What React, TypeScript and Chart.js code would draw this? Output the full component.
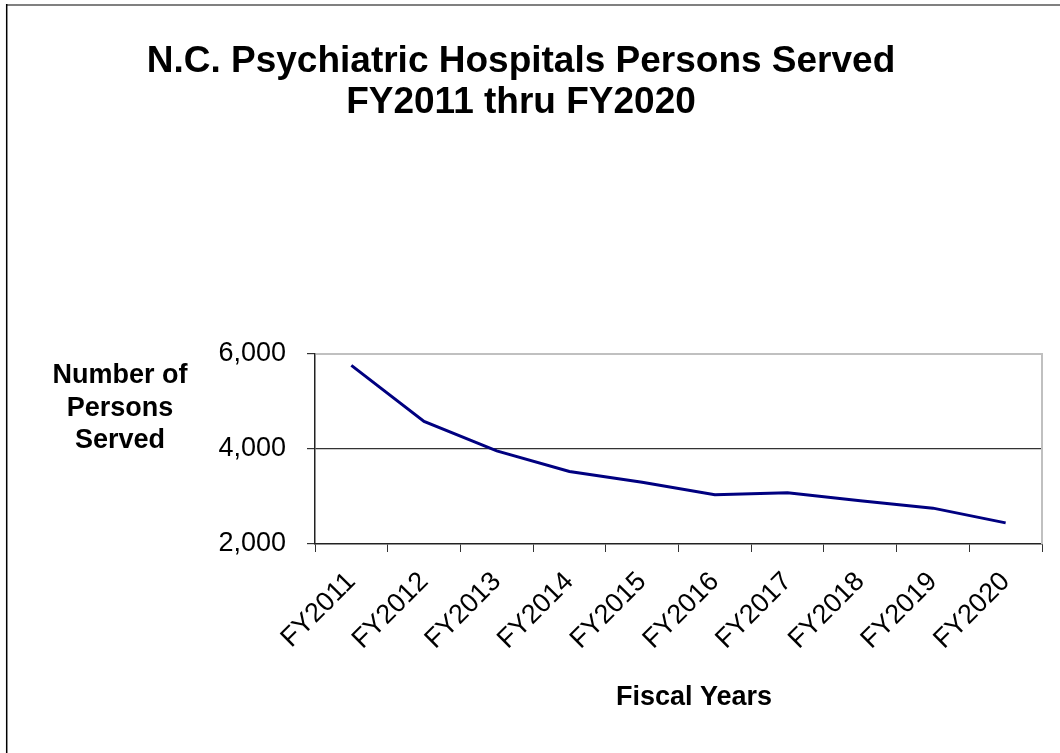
import React, { useEffect, useRef } from "react";
import { Chart, registerables } from "chart.js";

Chart.register(...registerables);

const categories = ["FY2011", "FY2012", "FY2013", "FY2014", "FY2015", "FY2016", "FY2017", "FY2018", "FY2019", "FY2020"];
const personsServed = [5760, 4580, 3960, 3525, 3300, 3035, 3080, 2910, 2755, 2445];
const titleLines = ["N.C. Psychiatric Hospitals Persons Served", "FY2011 thru FY2020"];
const yTitleLines = ["Number of", "Persons", "Served"];
const xTitle = "Fiscal Years";
const yMin = 2000;
const yMax = 6000;
const yStep = 2000;

const FONT = '"Liberation Sans", Arial, sans-serif';

const decorPlugin = {
  id: "decor",
  beforeDatasetsDraw(chart: any) {
    const { ctx, chartArea } = chart;
    ctx.save();
    ctx.strokeStyle = "#c0c0c0";
    ctx.lineWidth = 2;
    ctx.beginPath();
    ctx.moveTo(chartArea.left + 1, chartArea.top);
    ctx.lineTo(chartArea.right, chartArea.top);
    ctx.lineTo(chartArea.right, chartArea.bottom);
    ctx.stroke();
    ctx.restore();
  },
  afterDraw(chart: any) {
    const { ctx } = chart;
    ctx.save();
    ctx.strokeStyle = "#808080";
    ctx.lineWidth = 2;
    ctx.beginPath();
    ctx.moveTo(6, 5);
    ctx.lineTo(1060, 5);
    ctx.stroke();
    ctx.strokeStyle = "#000";
    ctx.lineWidth = 1.5;
    ctx.beginPath();
    ctx.moveTo(6.7, 4);
    ctx.lineTo(6.7, 753);
    ctx.stroke();

    ctx.fillStyle = "#000";
    ctx.textAlign = "center";
    ctx.textBaseline = "alphabetic";
    ctx.font = `bold 37px ${FONT}`;
    ctx.fillText(titleLines[0], 521, 72);
    ctx.fillText(titleLines[1], 521, 113);

    ctx.font = `bold 27px ${FONT}`;
    const yBase = [383, 416, 448];
    yTitleLines.forEach((t, i) => ctx.fillText(t, 120, yBase[i]));

    ctx.fillText(xTitle, 694, 705);
    ctx.restore();
  },
};

export default function App() {
  const canvasRef = useRef<HTMLCanvasElement | null>(null);

  useEffect(() => {
    document.body.style.margin = "0";
    const canvas = canvasRef.current;
    if (!canvas) return;
    const chart = new Chart(canvas, {
      type: "line",
      data: {
        labels: categories,
        datasets: [
          {
            data: personsServed,
            borderColor: "#000080",
            backgroundColor: "#000080",
            borderWidth: 3,
            pointRadius: 0,
            tension: 0,
            fill: false,
          },
        ],
      },
      options: {
        animation: false,
        responsive: false,
        devicePixelRatio: 1,
        layout: {
          padding: { top: 354, right: 18, bottom: 59, left: 115 },
        },
        plugins: {
          legend: { display: false },
          title: { display: false },
          tooltip: { enabled: false },
        },
        scales: {
          x: {
            type: "category",
            offset: true,
            afterFit: (scale: any) => {
              scale.height = 150;
            },
            grid: {
              offset: true,
              drawOnChartArea: false,
              drawTicks: true,
              tickLength: 8,
              tickColor: "#333",
            },
            border: { color: "#222", width: 1.5 },
            ticks: {
              minRotation: 45,
              maxRotation: 45,
              autoSkip: false,
              padding: 14,
              color: "#000",
              font: { family: FONT, size: 27 },
            },
          },
          y: {
            min: yMin,
            max: yMax,
            afterFit: (scale: any) => {
              scale.width = 200;
            },
            grid: {
              color: (c: any) => (c.tick && c.tick.value === 4000 ? "#333" : "rgba(0,0,0,0)"),
              lineWidth: 1.2,
              drawTicks: true,
              tickLength: 8,
              tickColor: "#333",
            },
            border: { color: "#222", width: 1.5 },
            ticks: {
              stepSize: yStep,
              padding: 21,
              color: "#000",
              font: { family: FONT, size: 27 },
              callback: (v: any) => Number(v).toLocaleString("en-US"),
            },
          },
        },
      },
      plugins: [decorPlugin],
    });
    return () => chart.destroy();
  }, []);

  return (
    <div style={{ width: 1060, height: 753, position: "relative", background: "#fff" }}>
      <canvas ref={canvasRef} width={1060} height={753} style={{ display: "block", width: 1060, height: 753 }} />
    </div>
  );
}
